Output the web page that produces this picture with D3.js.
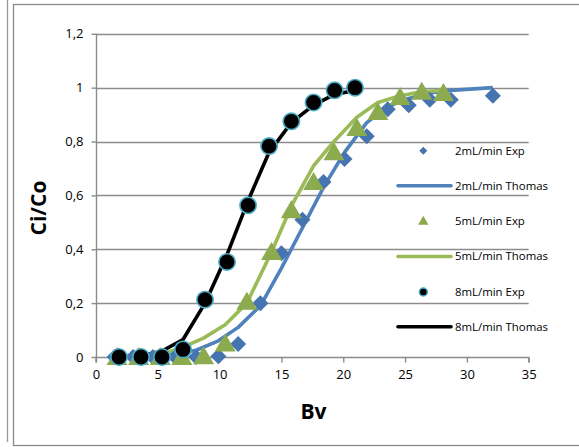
<!DOCTYPE html>
<html><head><meta charset="utf-8">
<script src="https://cdnjs.cloudflare.com/ajax/libs/d3/7.8.5/d3.min.js"></script>
<style>body{margin:0;background:#fff}svg{display:block}</style>
</head><body><svg id="c" width="579" height="447"></svg>
<script>
// Data
const exp2 = [[1.5,0],[3.0,0],[4.6,0],[6.4,0],[8.1,0],[9.9,0.003],[11.5,0.048],[13.3,0.2],[15.0,0.385],[16.7,0.51],[18.4,0.65],[20.1,0.735],[21.9,0.82],[23.6,0.92],[25.3,0.935],[27.0,0.955],[28.7,0.955],[32.1,0.97]];
const thomas2 = [[1.5,0],[3.0,0.001],[4.6,0.003],[6.4,0.01],[8.1,0.025],[9.9,0.06],[11.5,0.11],[13.3,0.19],[15.0,0.33],[16.7,0.48],[18.4,0.63],[20.1,0.76],[21.9,0.87],[23.6,0.93],[25.3,0.96],[27.0,0.98],[28.7,0.99],[32.1,1.0]];
const exp5 = [[1.7,0],[3.45,0],[5.2,0],[6.95,0],[8.7,0.003],[10.45,0.05],[12.2,0.205],[14.2,0.39],[15.8,0.545],[17.6,0.65],[19.25,0.76],[21.1,0.85],[22.8,0.91],[24.6,0.965],[26.35,0.985],[28.1,0.98]];
const thomas5 = [[1.7,0],[3.45,0.002],[5.2,0.008],[6.95,0.035],[8.7,0.07],[10.45,0.12],[12.2,0.2],[14.2,0.39],[15.8,0.56],[17.6,0.71],[19.25,0.80],[21.1,0.89],[22.8,0.945],[24.6,0.97],[26.35,0.985],[28.1,0.99]];
const exp8 = [[1.86,0],[3.64,0],[5.34,0],[7.04,0.028],[8.82,0.213],[10.6,0.353],[12.3,0.563],[14.0,0.783],[15.8,0.875],[17.6,0.945],[19.3,0.99],[20.95,1.0]];
const thomas8 = [[1.86,0.001],[3.64,0.004],[5.34,0.022],[7.04,0.065],[8.82,0.2],[10.6,0.38],[12.3,0.58],[14.0,0.76],[15.8,0.87],[17.6,0.935],[19.3,0.975],[20.95,0.99]];
const xTicks = [0,5,10,15,20,25,30,35];
const yTicks = [0,0.2,0.4,0.6,0.8,1,1.2];
const legendLabels = ["2mL/min Exp","2mL/min Thomas","5mL/min Exp","5mL/min Thomas","8mL/min Exp","8mL/min Thomas"];

const BLUE="#4F81BD", GREEN="#9BBB59", TEAL="#4BACC6", GRID="#8C8C8C";
const FONT="'Open Sans', 'Noto Sans', sans-serif";
const svg = d3.select("#c");
const x = d3.scaleLinear().domain([0,35]).range([96,528.7]);
const y = d3.scaleLinear().domain([0,1.2]).range([357,33.8]);
const fmt = d => String(d).replace(".", ",");

// frames
svg.append("line").attr("x1",7.5).attr("x2",7.5).attr("y1",0).attr("y2",442).attr("stroke","#9a9a9a").attr("stroke-width",1.3);
svg.append("rect").attr("x",13.5).attr("y",4.5).attr("width",600).attr("height",441).attr("fill","none").attr("stroke","#8a8a8a").attr("stroke-width",1.3);

// gridlines
svg.append("g").selectAll("line").data(yTicks.filter(d=>d>0)).join("line")
  .attr("x1",96).attr("x2",528.7).attr("y1",d=>Math.round(y(d))+0.5).attr("y2",d=>Math.round(y(d))+0.5)
  .attr("stroke",GRID).attr("stroke-width",1.4);

// axes
const xa = svg.append("g").attr("transform","translate(0,357.5)")
  .call(d3.axisBottom(x).tickValues(xTicks).tickSize(5).tickPadding(7).tickFormat(d=>d));
const ya = svg.append("g").attr("transform","translate(96.5,0)")
  .call(d3.axisLeft(y).tickValues(yTicks).tickSize(5).tickPadding(8).tickFormat(fmt));
[xa,ya].forEach(a=>{
  a.select(".domain").attr("stroke",GRID).attr("stroke-width",1.4);
  a.selectAll(".tick line").attr("stroke",GRID).attr("stroke-width",1.4);
  a.selectAll("text").attr("font-family",FONT).attr("font-size",13).attr("fill","#000");
});
ya.select(".domain").attr("d","M-0,33.8V357");
xa.select(".domain").attr("d","M96,5V0H528.7V5");

// lines
const line = d3.line().x(d=>x(d[0])).y(d=>y(d[1]));
[[thomas2,BLUE],[thomas5,GREEN],[thomas8,"#000"]].forEach(([d,c])=>{
  svg.append("path").datum(d).attr("d",line).attr("fill","none").attr("stroke",c).attr("stroke-width",3.6).attr("stroke-linejoin","round");
});

// markers
function diamondPath(s){return `M0,${-s}L${s},0L0,${s}L${-s},0Z`;}
function triPath(s){return `M0,${-s}L${s*1.05},${s*0.8}L${-s*1.05},${s*0.8}Z`;}
svg.append("g").selectAll("path").data(exp2).join("path")
  .attr("transform",d=>`translate(${x(d[0])},${y(d[1])})`).attr("d",diamondPath(8)).attr("fill","#4674B0");
svg.append("g").selectAll("path").data(exp5).join("path")
  .attr("transform",d=>`translate(${x(d[0])},${y(d[1])})`).attr("d",triPath(10)).attr("fill","#8CAA4E");
svg.append("g").selectAll("circle").data(exp8).join("circle")
  .attr("cx",d=>x(d[0])).attr("cy",d=>y(d[1])).attr("r",8.2).attr("fill","#000").attr("stroke",TEAL).attr("stroke-width",1.6);

// legend
const lg = svg.append("g");
const ly = [150.7,185.7,220.7,256.5,292,326.7];
legendLabels.forEach((t,i)=>{
  const yy = ly[i];
  if(i===0) lg.append("path").attr("transform",`translate(423.3,${yy})`).attr("d",diamondPath(4)).attr("fill","#4674B0");
  if(i===2) lg.append("path").attr("transform",`translate(423.3,${yy})`).attr("d",triPath(5)).attr("fill","#8CAA4E");
  if(i===4) lg.append("circle").attr("cx",423.3).attr("cy",yy).attr("r",4).attr("fill","#000").attr("stroke",TEAL).attr("stroke-width",1.5);
  if(i%2===1) lg.append("line").attr("x1",398).attr("x2",451).attr("y1",yy).attr("y2",yy)
     .attr("stroke",[BLUE,GREEN,"#000"][(i-1)/2]).attr("stroke-width",3.6).attr("stroke-linecap","round");
  lg.append("text").attr("x",455).attr("y",yy).attr("dy","0.35em").text(t)
    .attr("font-family",FONT).attr("font-size",11.4).attr("fill","#000");
});

// titles
svg.append("text").attr("x",313.5).attr("y",419).attr("text-anchor","middle").text("Bv")
  .attr("font-family",FONT).attr("font-weight","bold").attr("font-size",21).attr("fill","#000");
svg.append("text").attr("transform","translate(46,208) rotate(-90)").attr("text-anchor","middle").text("Ci/Co")
  .attr("font-family",FONT).attr("font-weight","bold").attr("font-size",21).attr("fill","#000");
</script></body></html>
